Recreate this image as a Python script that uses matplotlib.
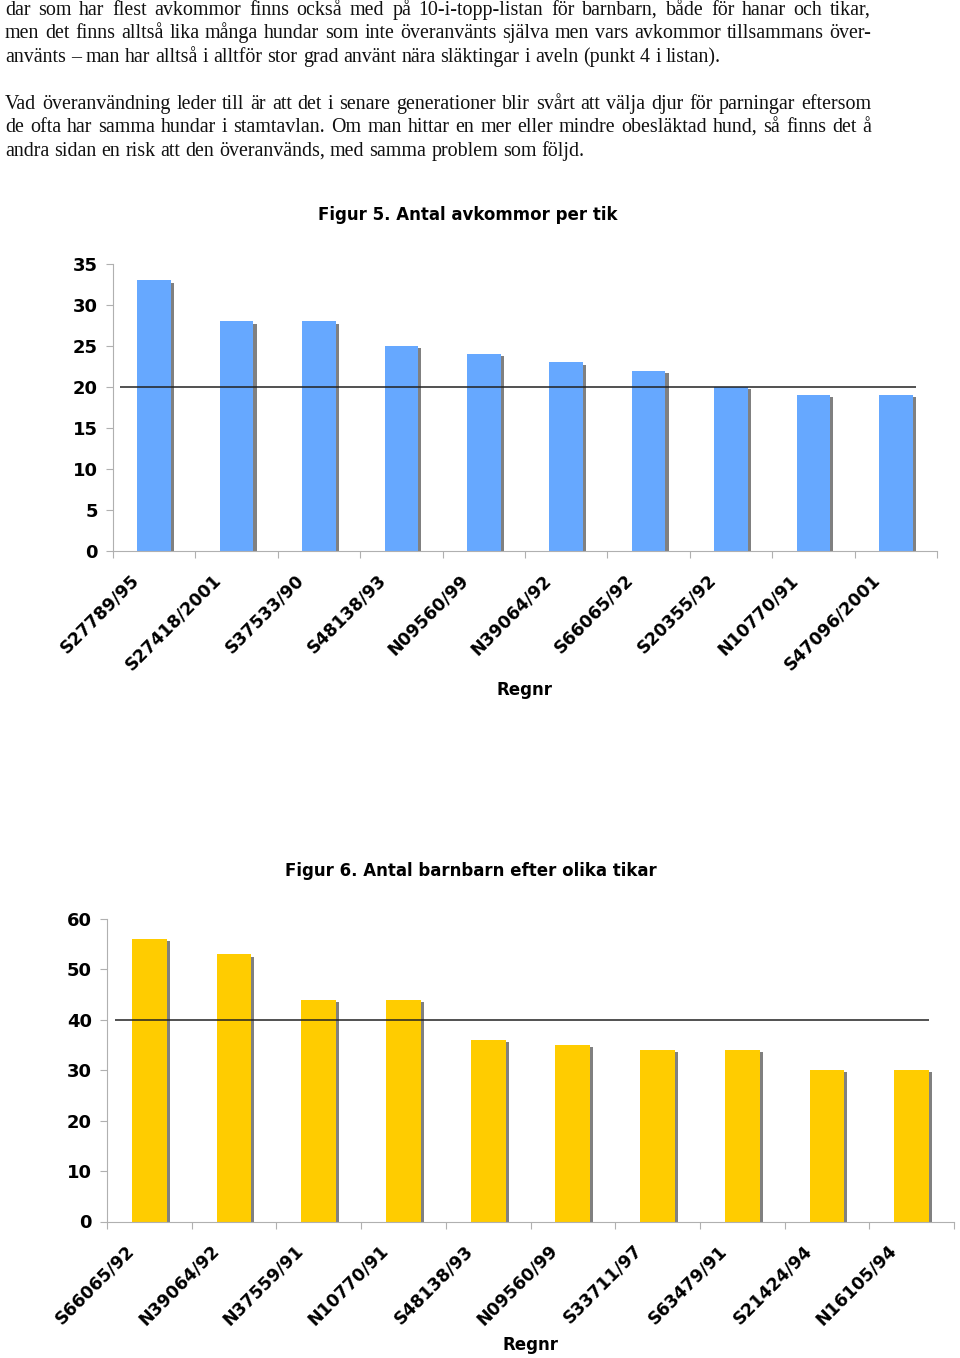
import matplotlib.pyplot as plt
import matplotlib.patheffects as pe

# text above the charts
lines = [
    'dar som har flest avkommor finns också med på 10-i-topp-listan för barnbarn, både för hanar och tikar,',
    'men det finns alltså lika många hundar som inte överanvänts själva men vars avkommor tillsammans över-',
    'använts – man har alltså i alltför stor grad använt nära släktingar i aveln (punkt 4 i listan).',
    'Vad överanvändning leder till är att det i senare generationer blir svårt att välja djur för parningar eftersom',
    'de ofta har samma hundar i stamtavlan. Om man hittar en mer eller mindre obesläktad hund, så finns det å',
    'andra sidan en risk att den överanvänds, med samma problem som följd.',
]
line_y = [15, 38, 62, 109, 132, 156]  # baselines
justify = [True, True, False, True, True, False]

# Figur 5
regnr5 = ['S27789/95', 'S27418/2001', 'S37533/90', 'S48138/93', 'N09560/99',
          'N39064/92', 'S66065/92', 'S20355/92', 'N10770/91', 'S47096/2001']
avkommor = [33, 28, 28, 25, 24, 23, 22, 20, 19, 19]
limit5 = 20

# Figur 6
regnr6 = ['S66065/92', 'N39064/92', 'N37559/91', 'N10770/91', 'S48138/93',
          'N09560/99', 'S33711/97', 'S63479/91', 'S21424/94', 'N16105/94']
barnbarn = [56, 53, 44, 44, 36, 35, 34, 34, 30, 30]
limit6 = 40

W, H = 960, 1358
fig = plt.figure(figsize=(W / 100, H / 100), dpi=100)
renderer = fig.canvas.get_renderer()

x0, x1 = 5, 871
fs_body = 14.4


def text_w(s):
    t = fig.text(0, 0, s, fontsize=fs_body, family='Liberation Serif')
    w = t.get_window_extent(renderer).width
    t.remove()
    return w


space_w = text_w('a b') - text_w('ab')
for t, y, just in zip(lines, line_y, justify):
    words = t.split(' ')
    objs = [fig.text(0, 1 - y / H, w, fontsize=fs_body, family='Liberation Serif',
                     va='baseline', ha='left', color='#111111') for w in words]
    widths = [o.get_window_extent(renderer).width for o in objs]
    sp = space_w
    if just:
        sp = (x1 - x0 - sum(widths)) / (len(words) - 1)
    xp = x0
    for o, w in zip(objs, widths):
        o.set_x(xp / W)
        xp += w + sp


def bar_chart(rect, names, vals, limit, ymax, step, color, title, title_y, xlab_y, line_x):
    ax = fig.add_axes(rect)
    n = len(names)
    x = [i + 0.5 for i in range(n)]
    bars = ax.bar(x, vals, width=0.41, color=color, zorder=2)
    for b in bars:
        b.set_path_effects([pe.SimplePatchShadow(offset=(2.2, -1.6), shadow_rgbFace='#808080', alpha=1.0),
                            pe.Normal()])
    ax.set_xlim(0, n)
    ax.set_ylim(0, ymax)
    ax.hlines(limit, line_x[0], line_x[1], color='#222222', lw=1.1, zorder=3)
    ax.set_yticks(range(0, ymax + 1, step))
    ax.set_xticks(range(n + 1))
    ax.set_xticklabels([])
    for s in ['top', 'right']:
        ax.spines[s].set_visible(False)
    for s in ['left', 'bottom']:
        ax.spines[s].set_color('#b0b0b0')
    ax.tick_params(axis='y', length=5, color='#b0b0b0', labelsize=13, pad=6)
    ax.tick_params(axis='x', length=5, color='#b0b0b0')
    for lab in ax.get_yticklabels():
        lab.set_fontweight('bold')
    for xi, name in zip(x, names):
        ax.annotate(name, (xi, 0), xytext=(-13, -19), textcoords='offset points',
                    rotation=45, ha='right', va='center', rotation_mode='anchor',
                    fontsize=12.5, fontweight='bold', annotation_clip=False)
    fig.text(rect[0] + rect[2] * 0.43, 1 - title_y / H, title, ha='center', va='center',
             fontsize=12, fontweight='bold')
    fig.text(rect[0] + rect[2] * 0.5, 1 - xlab_y / H, 'Regnr', ha='center', va='center',
             fontsize=12, fontweight='bold')
    return ax


bar_chart([113 / W, (H - 551) / H, 824 / W, 287 / H], regnr5, avkommor, limit5, 35, 5,
          '#66a8ff', 'Figur 5. Antal avkommor per tik', 215, 690, (0.08, 9.75))
bar_chart([107 / W, (H - 1221.5) / H, 847 / W, 302.5 / H], regnr6, barnbarn, limit6, 60, 10,
          '#ffcc00', 'Figur 6. Antal barnbarn efter olika tikar', 871, 1345, (0.09, 9.7))

fig.savefig('out.png', dpi=100)
